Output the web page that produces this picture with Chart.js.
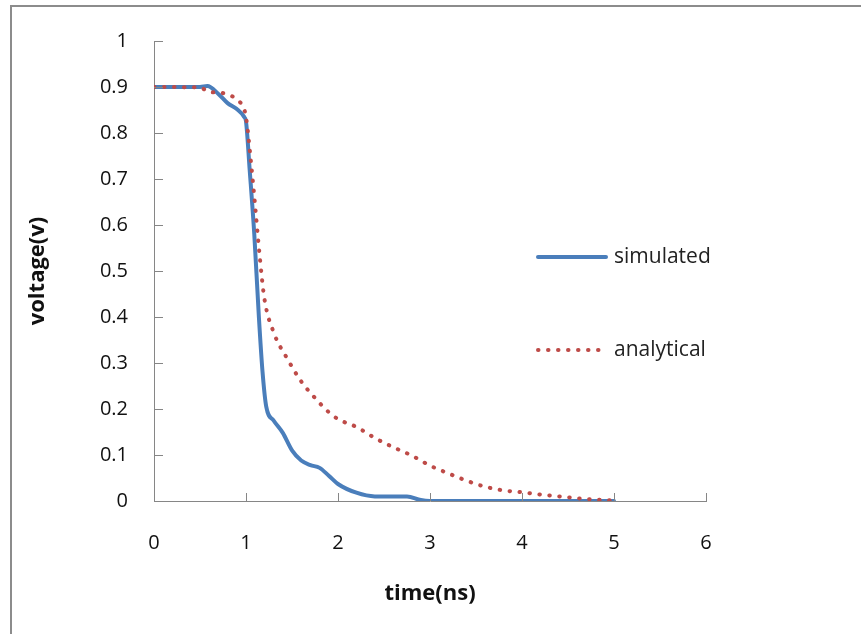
<!DOCTYPE html>
<html>
<head>
<meta charset="utf-8">
<script src="https://cdn.jsdelivr.net/npm/chart.js@4.4.1/dist/chart.umd.min.js"></script>
<style>
  body { margin: 0; background: #fff; }
  canvas { display: block; }
</style>
</head>
<body>
<canvas id="voltChart" width="861" height="634"></canvas>
<script>
// time (ns) / voltage (v)
const simTime = [0, 0.3, 0.5, 0.58, 0.7, 0.8, 0.9, 0.98, 1.0, 1.04, 1.09, 1.14, 1.18, 1.22, 1.3, 1.4, 1.5, 1.6, 1.7, 1.8, 1.9, 2.0, 2.2, 2.4, 2.6, 2.75, 2.9, 3.0, 3.5, 4.0, 4.5, 5.0];
const simVolt = [0.9, 0.9, 0.9, 0.902, 0.885, 0.865, 0.852, 0.835, 0.825, 0.72, 0.58, 0.40, 0.28, 0.205, 0.175, 0.148, 0.11, 0.088, 0.078, 0.072, 0.055, 0.037, 0.018, 0.01, 0.01, 0.01, 0.002, 0, 0, 0, 0, 0];

const anaTime = [0, 0.5, 0.6, 0.7, 0.8, 0.9, 0.97, 1.0, 1.05, 1.1, 1.15, 1.2, 1.3, 1.45, 1.6, 1.75, 1.9, 2.0, 2.2, 2.4, 2.6, 2.8, 3.0, 3.2, 3.4, 3.6, 3.8, 4.0, 4.2, 4.4, 4.6, 4.8, 5.0];
const anaVolt = [0.9, 0.899, 0.889, 0.888, 0.884, 0.873, 0.856, 0.835, 0.745, 0.64, 0.53, 0.44, 0.367, 0.309, 0.26, 0.224, 0.193, 0.178, 0.161, 0.137, 0.117, 0.099, 0.077, 0.06, 0.044, 0.031, 0.023, 0.019, 0.014, 0.01, 0.006, 0.003, 0.001];

const seriesNames = ["simulated", "analytical"];
const xTicks = [0, 1, 2, 3, 4, 5, 6];
const yTicks = [0, 0.1, 0.2, 0.3, 0.4, 0.5, 0.6, 0.7, 0.8, 0.9, 1];

const FONT = "'Open Sans', sans-serif";
const AXIS_GREY = "#868686";

function toPoints(xs, ys) {
  return xs.map((x, i) => ({ x: x, y: ys[i] }));
}

// frame, inward tick marks and the legend sitting inside the plot
const excelLook = {
  id: "excelLook",
  afterDraw(chart) {
    const ctx = chart.ctx;
    const xs = chart.scales.x, ys = chart.scales.y;
    const area = chart.chartArea;
    ctx.save();

    // outer frame
    ctx.strokeStyle = "#8c8c8c";
    ctx.lineWidth = 2;
    ctx.beginPath();
    ctx.moveTo(11, 634);
    ctx.lineTo(11, 6);
    ctx.lineTo(861, 6);
    ctx.stroke();

    // tick marks pointing into the plot
    ctx.strokeStyle = AXIS_GREY;
    ctx.lineWidth = 1;
    ctx.beginPath();
    yTicks.forEach(v => {
      const py = Math.round(ys.getPixelForValue(v)) + 0.5;
      ctx.moveTo(area.left, py);
      ctx.lineTo(area.left + 9, py);
    });
    xTicks.forEach(v => {
      const px = Math.round(xs.getPixelForValue(v)) + 0.5;
      ctx.moveTo(px, area.bottom);
      ctx.lineTo(px, area.bottom - 8);
    });
    ctx.stroke();

    // legend
    const ds = chart.data.datasets;
    const rows = [257, 350];
    ds.forEach((d, i) => {
      const y = rows[i];
      ctx.strokeStyle = d.borderColor;
      ctx.lineWidth = d.borderWidth;
      ctx.lineCap = "round";
      ctx.setLineDash(d.borderDash || []);
      ctx.beginPath();
      ctx.moveTo(538, y);
      ctx.lineTo(606, y);
      ctx.stroke();
      ctx.setLineDash([]);
      ctx.fillStyle = "#222";
      ctx.font = "21px " + FONT;
      ctx.textBaseline = "middle";
      ctx.textAlign = "left";
      ctx.fillText(d.label, 614, y);
    });
    ctx.restore();
  }
};

const ctx = document.getElementById("voltChart").getContext("2d");
new Chart(ctx, {
  type: "line",
  data: {
    datasets: [
      {
        label: seriesNames[0],
        data: toPoints(simTime, simVolt),
        borderColor: "#4A7EBB",
        borderWidth: 4,
        borderCapStyle: "round",
        borderJoinStyle: "round",
        cubicInterpolationMode: "monotone",
        pointRadius: 0,
        fill: false,
        order: 1
      },
      {
        label: seriesNames[1],
        data: toPoints(anaTime, anaVolt),
        borderColor: "#BE4B48",
        borderWidth: 4,
        borderDash: [0.5, 9.5],
        borderCapStyle: "round",
        cubicInterpolationMode: "monotone",
        pointRadius: 0,
        fill: false,
        order: 0
      }
    ]
  },
  options: {
    responsive: false,
    animation: false,
    layout: { padding: { left: 0, top: 41, right: 155, bottom: 0 } },
    plugins: {
      legend: { display: false },
      tooltip: { enabled: false }
    },
    scales: {
      x: {
        type: "linear",
        min: 0,
        max: 6,
        afterFit: s => { s.height = 133; },
        afterBuildTicks: s => { s.ticks = xTicks.map(v => ({ value: v })); },
        grid: { display: false, drawTicks: false },
        border: { display: true, color: AXIS_GREY, width: 1 },
        ticks: {
          color: "#111",
          font: { family: FONT, size: 20 },
          padding: 30,
          maxRotation: 0,
          callback: v => String(v)
        },
        title: {
          display: true,
          text: "time(ns)",
          color: "#111",
          font: { family: FONT, size: 22, weight: "bold" },
          padding: { top: 0, bottom: 27 }
        }
      },
      y: {
        min: 0,
        max: 1,
        afterFit: s => { s.width = 154; },
        afterBuildTicks: s => { s.ticks = yTicks.map(v => ({ value: v })); },
        grid: { display: false, drawTicks: false },
        border: { display: true, color: AXIS_GREY, width: 1 },
        ticks: {
          color: "#111",
          font: { family: FONT, size: 20 },
          padding: 26,
          callback: v => String(Math.round(v * 10) / 10)
        },
        title: {
          display: true,
          text: "voltage(v)",
          color: "#111",
          font: { family: FONT, size: 22, weight: "bold" },
          padding: { top: 25, bottom: 0 }
        }
      }
    }
  },
  plugins: [excelLook]
});
</script>
</body>
</html>
